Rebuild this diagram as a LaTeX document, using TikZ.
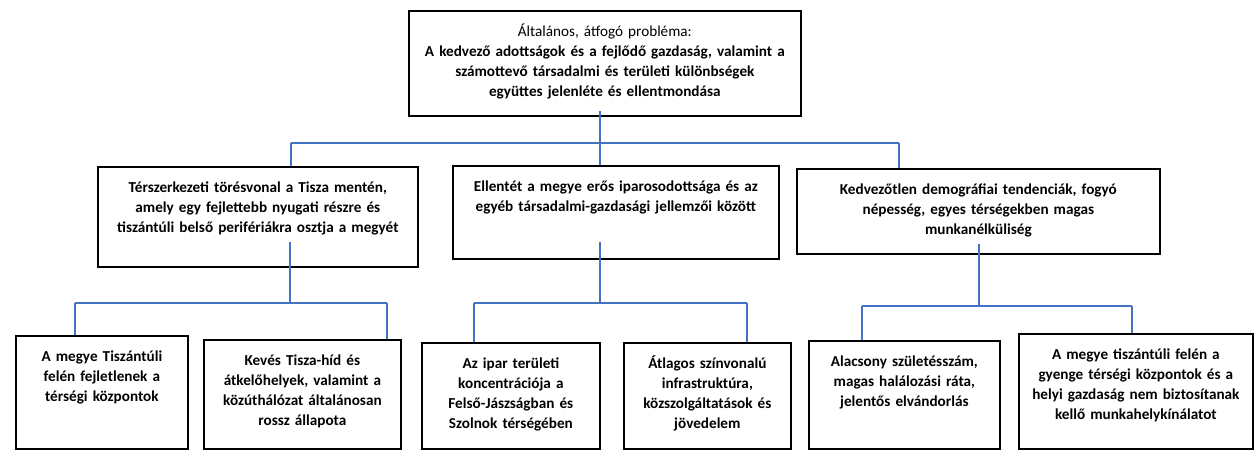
\documentclass[tikz,border=0pt]{standalone}
\usepackage{fontspec}
\setmainfont{Carlito}
\usepackage{xcolor}
\usepackage{tikz}
\definecolor{linkblue}{RGB}{68,114,196}

\begin{document}
\begin{tikzpicture}[x=0.75pt,y=-0.75pt,
  every node/.style={font=\fontsize{11.4}{15}\selectfont\bfseries},
  box/.style={draw,line width=1.3pt,anchor=north west,align=center,inner xsep=3pt,inner ysep=0pt,text height=19pt},
  link/.style={draw=linkblue,line width=0.9pt}]
 \useasboundingbox (0,0) rectangle (1254,450);
 % general problem
 \node[box,text width=288pt,text depth=59.75pt] (T) at (408,10) {{\mdseries Általános, átfogó probléma:}\\A kedvező adottságok és a fejlődő gazdaság, valamint a\\számottevő társadalmi és területi különbségek\\együttes jelenléte és ellentmondása};
 % second level
 \node[box,text width=234pt,text depth=56pt] (A) at (97,166) {Térszerkezeti törésvonal a Tisza mentén,\\amely egy fejlettebb nyugati részre és\\tiszántúli belső perifériákra osztja a megyét};
 \node[box,text width=238.5pt,text depth=50.75pt] (B) at (452,165) {Ellentét a megye erős iparosodottsága és az\\egyéb társadalmi-gazdasági jellemzői között};
 \node[box,text width=266.25pt,text depth=44.75pt] (C) at (796,168) {Kedvezőtlen demográfiai tendenciák, fogyó\\népesség, egyes térségekben magas\\munkanélküliség};
 % third level
 \node[box,text width=123pt,text depth=65.75pt] (L1) at (15,335) {A megye Tiszántúli\\felén fejletlenek a\\térségi központok};
 \node[box,text width=141.75pt,text depth=62.75pt] (L2) at (203,339) {Kevés Tisza-híd és\\átkelőhelyek, valamint a\\közúthálózat általánosan\\rossz állapota};
 \node[box,text width=127.5pt,text depth=60.5pt] (L3) at (421,342) {Az ipar területi\\koncentrációja a\\Felső-Jászságban és\\Szolnok térségében};
 \node[box,text width=119.25pt,text depth=60.5pt] (L4) at (623,342) {Átlagos színvonalú\\infrastruktúra,\\közszolgáltatások és\\jövedelem};
 \node[box,text width=137.25pt,text depth=62pt] (L5) at (808,340) {Alacsony születésszám,\\magas halálozási ráta,\\jelentős elvándorlás};
 \node[box,text width=169.5pt,text depth=67.25pt] (L6) at (1018,333) {A megye tiszántúli felén a\\gyenge térségi központok és a\\helyi gazdaság nem biztosítanak\\kellő munkahelykínálatot};

 % connectors (stems start a little inside the boxes)
 \coordinate (T-w) at (291,143);
 \coordinate (T-m) at (600,143);
 \coordinate (T-e) at (899,143);
 \draw[link] ([yshift=4pt]T-m |- T.south) -- (T-m);
 \draw[link] (T-w) -- (T-e);
 \draw[link] (T-w) -- (T-w |- A.north);
 \draw[link] (T-m) -- (T-m |- B.north);
 \draw[link] (T-e) -- (T-e |- C.north);
 \foreach \up/\l/\m/\r/\y/\in/\dl/\dr in {A/75/290/387/303/19/L1/L2,B/474/600/747/303/13/L3/L4,C/862/979/1132/306/8/L5/L6}{
  \coordinate (\up-w) at (\l,\y);
  \coordinate (\up-m) at (\m,\y);
  \coordinate (\up-e) at (\r,\y);
  \draw[link] ([yshift=\in pt]\up-m |- \up.south) -- (\up-m);
  \draw[link] (\up-w) -- (\up-e);
  \draw[link] (\up-w) -- (\up-w |- \dl.north);
  \draw[link] (\up-e) -- (\up-e |- \dr.north);
 }
\end{tikzpicture}
\end{document}
